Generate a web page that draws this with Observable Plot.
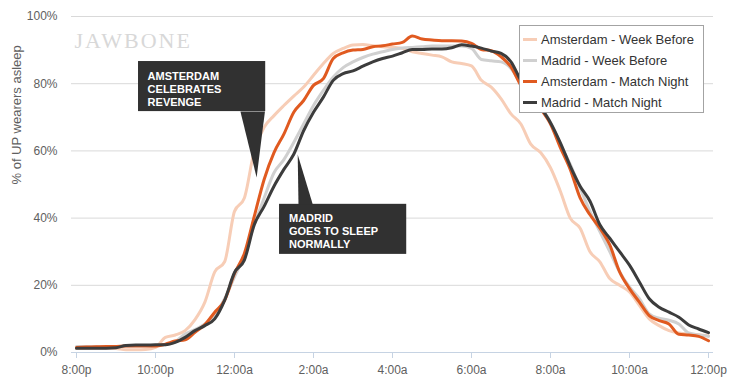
<!DOCTYPE html>
<html>
<head>
<meta charset="utf-8">
<script src="https://cdn.jsdelivr.net/npm/d3@7"></script>
<script src="https://cdn.jsdelivr.net/npm/@observablehq/plot@0.6"></script>
<style>
  body { margin: 0; background: #fff; font-family: "Liberation Sans", Arial, Helvetica, sans-serif; }
  #wrap { position: relative; width: 730px; height: 392px; }
  #legend { position: absolute; left: 519px; top: 25px; width: 185px; height: 88px; box-sizing: border-box;
            border: 1px solid #a3a3a3; background: #fff; padding: 2.5px 0 0 3px; }
  .item { height: 21px; display: flex; align-items: center; font-size: 13px; color: #333; white-space: nowrap; }
  .sw { width: 14px; height: 3px; margin-right: 4px; flex: none; }
</style>
</head>
<body>
<div id="wrap"><div id="legend"></div></div>
<script>
// ---- data ----
const hours = [0,0.25,0.5,0.75,1,1.25,1.5,1.75,2,2.25,2.5,2.75,3,3.25,3.5,3.75,4,4.25,4.5,4.75,5,5.25,5.5,5.75,6,6.25,6.5,6.75,7,7.25,7.5,7.75,8,8.25,8.5,8.75,9,9.25,9.5,9.75,10,10.25,10.5,10.75,11,11.25,11.5,11.75,12,12.25,12.5,12.75,13,13.25,13.5,13.75,14,14.25,14.5,14.75,15,15.25,15.5,15.75,16];

const seriesNames = ["Amsterdam - Week Before","Madrid - Week Before","Amsterdam - Match Night","Madrid - Match Night"];
const seriesColors = ["#f7cdb6","#d0d0d0","#e05a20","#3c3c3c"];

const amsterdamWeekBefore = [1.2,1.2,1.3,1.3,1.2,0.8,0.8,0.9,1.5,4.5,5.2,6.5,9.8,15,24,27,42,46,60,67,70.5,73.5,76.3,79,82.5,86,89,90.5,91.5,91.7,91.3,91,90.8,90.5,89.5,89,88.5,88,86.5,86,85.3,81,79,75.5,71,68,62,59.5,55,48,40,37,30,27,22,20,18,14,10,8,6.5,5.8,5.5,5.3,5];
const madridWeekBefore = [1.8,1.8,1.8,1.8,1.8,1.9,2,2,2.1,2.3,3.2,5.5,6.8,8.5,11,16,22.5,29,38,46,53.5,57.4,62.5,68,73.5,78,82,84.8,86.5,87.8,88.8,89.5,90.2,90.6,90.8,91,91.2,91.2,91.2,91.2,90.5,87.2,86.8,86.5,84.5,80,76.5,73,68.5,62,56,49,42,36,30,24,19.5,16,11.5,10.2,9.6,8.5,5.8,5.2,4.8];
const amsterdamMatchNight = [1.5,1.6,1.7,1.8,1.8,1.9,1.9,1.9,1.9,2.5,3.4,3.8,6,8.3,12,15.5,23.5,29.5,40.5,51.5,59.5,65,71.5,75,79.5,81.5,87.5,89.2,90,90.2,91,91.3,91.8,92.3,94.2,93.3,93,92.8,92.8,92.7,92,90.2,89.8,88,85,79.5,76,72.5,68,61,54.5,46,41,37,32,24,19,15,11,9.5,8.5,5.4,5.2,4.8,3.5];
const madridMatchNight = [1.3,1.3,1.3,1.3,1.4,2.1,2.2,2.2,2.3,2.3,3,4.5,6.5,8,10,15.5,23.8,27.5,38,43.5,49.5,54.5,59,66,71.5,76,81,83,83.8,85.2,86.5,87.5,88.2,89.2,90.2,90.2,90.3,90.3,90.7,91.6,91.2,90.6,89.7,89,86.5,81,77,73,68.4,62.4,55.5,49.5,45,38,34,30,26,21,16,13.5,12,10.5,8.2,7,5.9];

const xTicks = [0,2,4,6,8,10,12,14,16];
const xTickLabels = ["8:00p","10:00p","12:00a","2:00a","4:00a","6:00a","8:00a","10:00a","12:00p"];
const yTicks = [0,20,40,60,80,100];

// ---- annotations (in data units: hours after 8pm, % asleep) ----
const noteLabels = ["AMSTERDAM\nCELEBRATES\nREVENGE", "MADRID\nGOES TO SLEEP\nNORMALLY"];
const noteBoxX1 = [1.57, 5.14], noteBoxX2 = [4.79, 8.36];
const noteBoxY1 = [71.7, 29.2], noteBoxY2 = [86.6, 44.1];
const noteTextX = [1.80, 5.38], noteTextY = [83.9, 41.6];
const notePointerX = [[4.15, 4.77, 4.56], [5.62, 5.98, 5.6]];
const notePointerY = [[71.7, 71.7, 52.1], [44.1, 44.1, 58.9]];

// ---- build tables ----
const seriesValues = [amsterdamWeekBefore, madridWeekBefore, amsterdamMatchNight, madridMatchNight];
const rows = seriesNames.flatMap((name, i) => hours.map((h, j) => ({series: name, h, v: seriesValues[i][j]})));
const notes = noteLabels.map((t, i) => ({t, x1: noteBoxX1[i], x2: noteBoxX2[i], y1: noteBoxY1[i], y2: noteBoxY2[i], tx: noteTextX[i], ty: noteTextY[i]}));
const pointers = notePointerX.flatMap((xs, i) => xs.map((x, k) => ({note: i, x, y: notePointerY[i][k]})));

const boxColor = "#313131";
const labelColor = "#606060";

const chart = Plot.plot({
  width: 730, height: 392,
  marginLeft: 71, marginRight: 17, marginTop: 16, marginBottom: 40,
  x: {domain: [0, 16], insetLeft: 5, insetRight: 5},
  y: {domain: [0, 100]},
  color: {domain: seriesNames, range: seriesColors},
  style: {fontFamily: '"Liberation Sans", Arial, Helvetica, sans-serif', fontSize: "12px", background: "white", overflow: "visible"},
  marks: [
    Plot.gridY(yTicks, {stroke: "#d9d9d9", strokeOpacity: 1}),
    Plot.ruleY([0], {stroke: "#c6d3e3"}),
    Plot.text(["JAWBONE"], {frameAnchor: "top-left", dx: 3, dy: 16, textAnchor: "start", lineAnchor: "top",
      fontSize: 22, fontFamily: '"Liberation Serif", "DejaVu Serif", serif', fill: "#d8d8d8"}),
    Plot.axisY(yTicks, {tickSize: 0, tickPadding: 14, tickFormat: d => d + "%", fill: labelColor, fontSize: 12, label: null}),
    Plot.axisX(xTicks, {tickSize: 6, tickPadding: 7, tickFormat: d => xTickLabels[xTicks.indexOf(d)],
      stroke: "#c6d3e3", fill: labelColor, fontSize: 12, label: null}),
    Plot.text(["% of UP wearers asleep"], {frameAnchor: "left", rotate: -90, dx: -54.5, fill: labelColor, fontSize: 13}),
    Plot.line(rows, {x: "h", y: "v", z: "series", stroke: "series", strokeWidth: 3, curve: "monotone-x",
      strokeLinejoin: "round", strokeLinecap: "round"}),
    Plot.rect(notes, {x1: "x1", x2: "x2", y1: "y1", y2: "y2", fill: boxColor}),
    Plot.line(pointers, {x: "x", y: "y", z: "note", fill: boxColor, stroke: "none", curve: "linear-closed"}),
    Plot.text(notes, {x: "tx", y: "ty", text: "t", textAnchor: "start", lineAnchor: "top", lineHeight: 1.2,
      fill: "white", fontSize: 11, fontWeight: "bold"})
  ]
});

chart.querySelectorAll("text").forEach(t => { if (t.textContent === "JAWBONE") t.style.letterSpacing = "2px"; });
document.getElementById("wrap").prepend(chart);

const legend = document.getElementById("legend");
seriesNames.forEach((name, i) => {
  const item = document.createElement("div");
  item.className = "item";
  const sw = document.createElement("span");
  sw.className = "sw";
  sw.style.background = seriesColors[i];
  item.appendChild(sw);
  item.appendChild(document.createTextNode(name));
  legend.appendChild(item);
});
</script>
</body>
</html>
